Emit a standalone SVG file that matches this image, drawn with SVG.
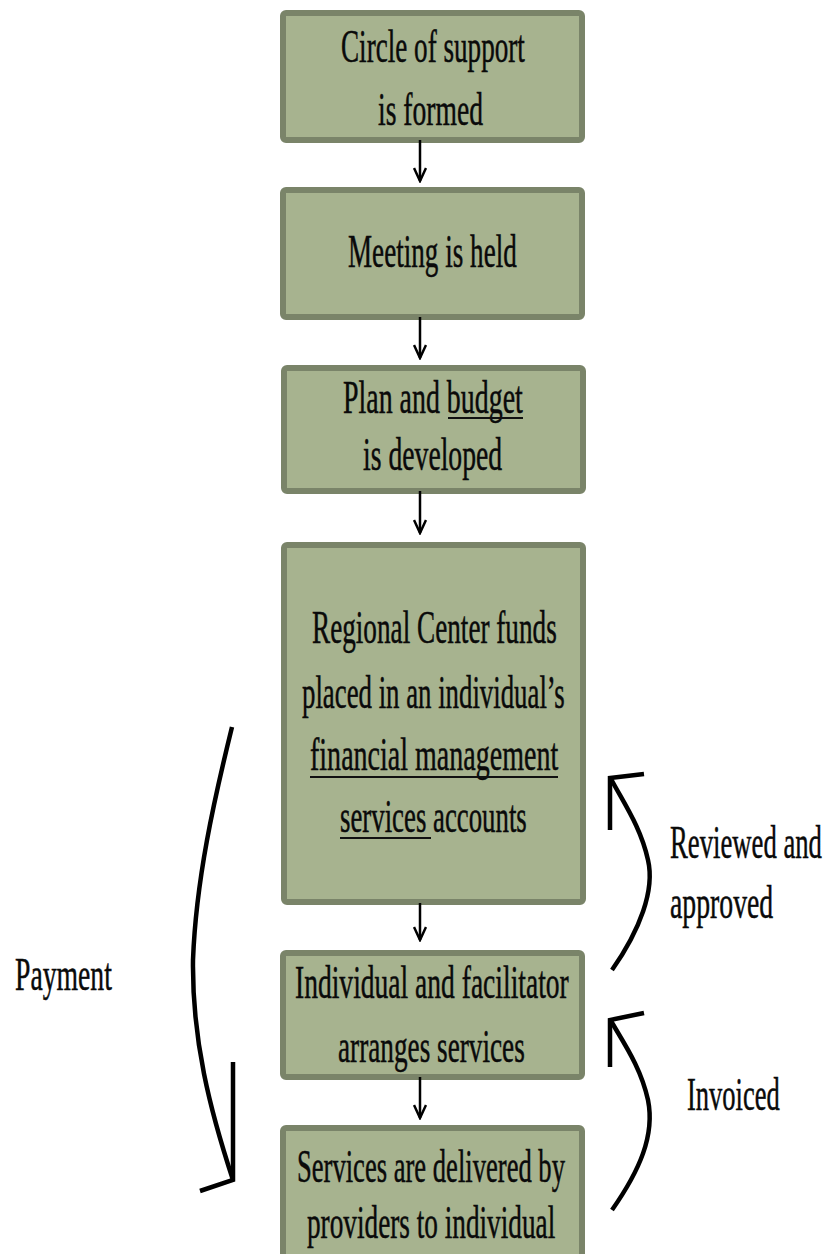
<svg xmlns="http://www.w3.org/2000/svg" width="827" height="1254" viewBox="0 0 827 1254">
<style>
.box{fill:#a7b38f;stroke:#7a8469;stroke-width:6}
.t{font-family:"Liberation Serif","Times New Roman",serif;font-size:47px;fill:#0a0a0a;stroke:#0a0a0a;stroke-width:0.5}
.ul{stroke:#111;stroke-width:2.2}
.flow{fill:none;stroke:#000;stroke-width:2.5}
.hand{fill:none;stroke:#000;stroke-width:4.5;stroke-linecap:butt;stroke-linejoin:miter}
</style>
<defs>
<marker id="ah" markerWidth="16" markerHeight="14" refX="14" refY="7" orient="auto" markerUnits="userSpaceOnUse" viewBox="0 0 16 14">
<path d="M1,1 L14,7 L1,13" fill="none" stroke="#000" stroke-width="2.5"/>
</marker>
</defs>
<rect width="827" height="1254" fill="#fff"/>
<g id="n1">
<rect class="box" x="283" y="13" width="299" height="127" rx="3"/>
<text class="t" transform="translate(341,62) scale(0.58,1)" textLength="317" lengthAdjust="spacingAndGlyphs">Circle of support</text>
<text class="t" transform="translate(378,125) scale(0.58,1)" textLength="181" lengthAdjust="spacingAndGlyphs">is formed</text>
</g>
<g id="n2">
<rect class="box" x="283" y="190" width="299" height="127" rx="3"/>
<text class="t" transform="translate(348,267) scale(0.58,1)" textLength="291" lengthAdjust="spacingAndGlyphs">Meeting is held</text>
</g>
<g id="n3">
<rect class="box" x="284" y="368" width="299" height="123" rx="3"/>
<text class="t" transform="translate(343,413) scale(0.58,1)" textLength="310" lengthAdjust="spacingAndGlyphs">Plan and budget</text>
<line class="ul" x1="448" y1="418" x2="523" y2="418"/>
<text class="t" transform="translate(363,470) scale(0.58,1)" textLength="240" lengthAdjust="spacingAndGlyphs">is developed</text>
</g>
<g id="n4">
<rect class="box" x="284" y="545" width="299" height="357" rx="3"/>
<text class="t" transform="translate(312,643) scale(0.58,1)" textLength="422" lengthAdjust="spacingAndGlyphs">Regional Center funds</text>
<text class="t" transform="translate(302,708) scale(0.58,1)" textLength="453" lengthAdjust="spacingAndGlyphs">placed in an individual’s</text>
<text class="t" transform="translate(310,770) scale(0.58,1)" textLength="428" lengthAdjust="spacingAndGlyphs">financial management</text>
<line class="ul" x1="310" y1="777" x2="558" y2="777"/>
<text class="t" transform="translate(340,832) scale(0.58,1)" textLength="322" lengthAdjust="spacingAndGlyphs">services accounts</text>
<line class="ul" x1="340" y1="838" x2="431" y2="838"/>
</g>
<g id="n5">
<rect class="box" x="283" y="953" width="299" height="124" rx="3"/>
<text class="t" transform="translate(295,998) scale(0.58,1)" textLength="472" lengthAdjust="spacingAndGlyphs">Individual and facilitator</text>
<text class="t" transform="translate(338,1062) scale(0.58,1)" textLength="322" lengthAdjust="spacingAndGlyphs">arranges services</text>
</g>
<g id="n6">
<rect class="box" x="283" y="1128" width="299" height="140" rx="3"/>
<text class="t" transform="translate(297,1182) scale(0.58,1)" textLength="462" lengthAdjust="spacingAndGlyphs">Services are delivered by</text>
<text class="t" transform="translate(307,1238) scale(0.58,1)" textLength="428" lengthAdjust="spacingAndGlyphs">providers to individual</text>
</g>
<g id="labels">
<text class="t" transform="translate(15,990) scale(0.58,1)" textLength="167" lengthAdjust="spacingAndGlyphs">Payment</text>
<text class="t" transform="translate(670,858) scale(0.58,1)" textLength="262" lengthAdjust="spacingAndGlyphs">Reviewed and</text>
<text class="t" transform="translate(670,918) scale(0.58,1)" textLength="178" lengthAdjust="spacingAndGlyphs">approved</text>
<text class="t" transform="translate(687,1110) scale(0.58,1)" textLength="160" lengthAdjust="spacingAndGlyphs">Invoiced</text>
</g>
<g id="connectors">
<line class="flow" x1="420" y1="140" x2="420" y2="181" marker-end="url(#ah)"/>
<line class="flow" x1="420" y1="317" x2="420" y2="358" marker-end="url(#ah)"/>
<line class="flow" x1="420" y1="491" x2="420" y2="533" marker-end="url(#ah)"/>
<line class="flow" x1="420" y1="903" x2="420" y2="940" marker-end="url(#ah)"/>
<line class="flow" x1="420" y1="1077" x2="420" y2="1118" marker-end="url(#ah)"/>
<path class="hand" d="M232,727 C214,800 196,880 193,960 C192,1040 210,1110 233,1180"/>
<path class="hand" d="M233,1062 L233,1180 L200,1191"/>
<path class="hand" d="M612,970 C640,930 655,890 648,860 C641,828 625,805 611,779"/>
<path class="hand" d="M610,830 L610,778 L644,774"/>
<path class="hand" d="M612,1210 C640,1170 655,1135 648,1100 C641,1068 625,1045 611,1021"/>
<path class="hand" d="M610,1067 L610,1020 L644,1013"/>
</g>
</svg>
